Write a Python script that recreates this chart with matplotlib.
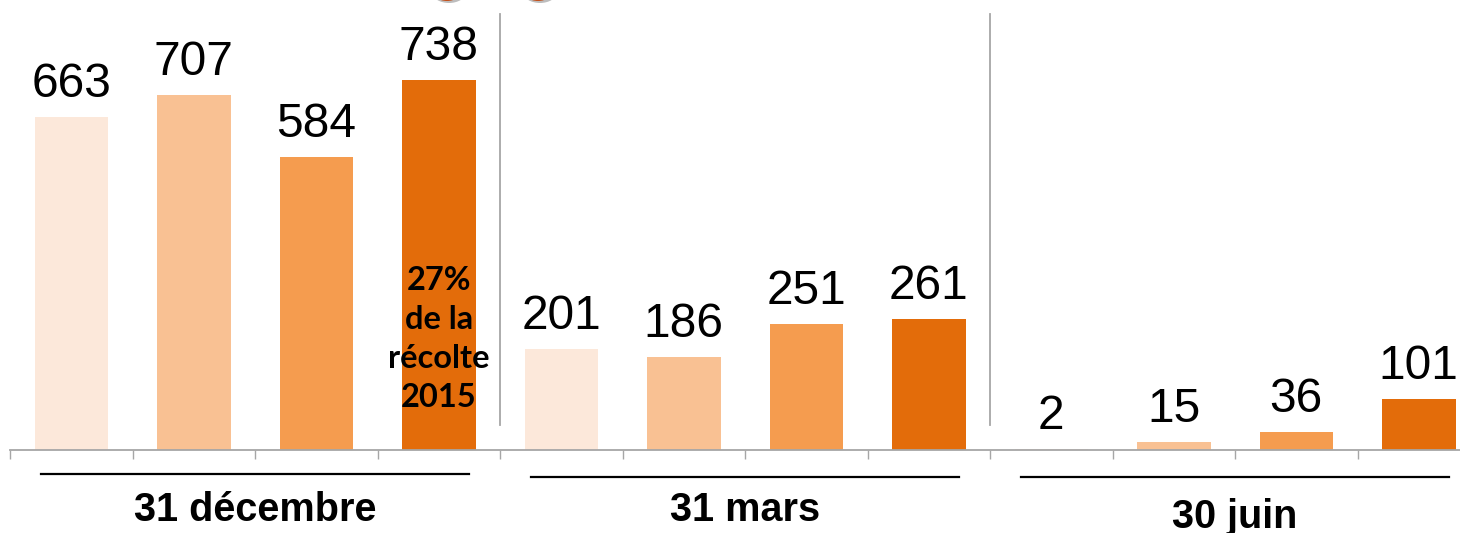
import matplotlib
matplotlib.use("Agg")
import matplotlib.pyplot as plt
from matplotlib.patches import Ellipse
from matplotlib.transforms import IdentityTransform

# data: 4 bars per date
groups = ["31 décembre", "31 mars", "30 juin"]
values = [663, 707, 584, 738,
          201, 186, 251, 261,
          2, 15, 36, 101]
colors = ["#FCE8DA", "#F9C193", "#F59C4F", "#E36C0A"]
note = "27%\nde la\nrécolte\n2015"

fig = plt.figure(figsize=(14.6, 5.33), dpi=100)
ax = fig.add_axes([10 / 1460, 83 / 533, 1470 / 1460, 450 / 533])

x = list(range(len(values)))
bar_colors = [colors[i % 4] for i in x]
bars = ax.bar(x, values, width=0.6, color=bar_colors, zorder=2)

ax.set_xlim(-0.5, 11.5)
ax.set_ylim(0, 897)

# value labels above bars
for xi, v in zip(x, values):
    ax.annotate(str(v), (xi, v), xytext=(0, 14.5), textcoords="offset points",
                ha="center", va="baseline", fontsize=34.5,
                family="Liberation Sans", color="black")

# annotation inside last bar of first group
ax.text(3, 222, note, ha="center", va="center", fontsize=23.5,
        fontweight="bold", family="Lato", linespacing=1.42, zorder=3)

# axis styling
for s in ["top", "left", "right"]:
    ax.spines[s].set_visible(False)
ax.spines["bottom"].set_color("#A6A6A6")
ax.spines["bottom"].set_linewidth(1.3)
ax.set_yticks([])
ax.set_xticks([i - 0.5 for i in range(13)])
ax.set_xticklabels([])
ax.tick_params(axis="x", direction="out", length=6.5, width=1.0, color="#A6A6A6")

# separators between groups
for sx in [3.5, 7.5]:
    ax.plot([sx, sx], [50, 869], color="#A6A6A6", lw=1.3, zorder=1)

# group labels with lines above
line_y = [-48, -54, -54]
text_y = [-120, -120, -133]
for g, name in enumerate(groups):
    c = g * 4 + 1.5
    ax.plot([c - 1.75, c + 1.75], [line_y[g], line_y[g]], color="black",
            lw=1.6, clip_on=False)
    ax.text(c, text_y[g], name, ha="center", va="center", fontsize=28.5,
            fontweight="bold", family="Liberation Sans", clip_on=False)

# cut-off icons at the top edge
for cx in [447, 538]:
    fig.patches.append(Ellipse((cx + 2, 541), 34, 22, transform=IdentityTransform(),
                               facecolor="#BDBDBD", edgecolor="none"))
    fig.patches.append(Ellipse((cx, 543), 30, 22, transform=IdentityTransform(),
                               facecolor="#C4501B", edgecolor="none"))

fig.savefig("out.png", dpi=100)
